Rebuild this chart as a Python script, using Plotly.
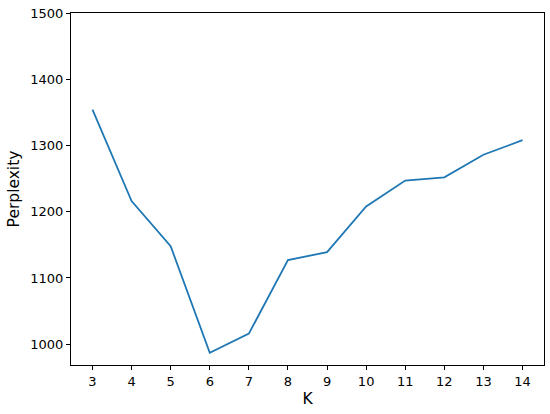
import plotly.graph_objects as go

k_values = [3, 4, 5, 6, 7, 8, 9, 10, 11, 12, 13, 14]
perplexity = [1354, 1216, 1148, 987, 1016, 1127, 1139, 1208, 1247, 1252, 1286, 1308]
y_ticks = [1000, 1100, 1200, 1300, 1400, 1500]

# matplotlib-like 5% padding below the data; the top is fixed at 1500
y_low = min(perplexity) - 0.05 * (max(perplexity) - min(perplexity))

fig = go.Figure()
fig.add_trace(
    go.Scatter(
        x=k_values,
        y=perplexity,
        mode="lines",
        line={"color": "#1f77b4", "width": 1.8},
        showlegend=False,
    )
)

axis_style = dict(
    showline=True,
    mirror=True,
    linecolor="black",
    linewidth=1,
    ticks="outside",
    ticklen=4,
    tickwidth=1,
    tickcolor="black",
    showgrid=False,
    zeroline=False,
    automargin=False,
    tickfont={"family": "DejaVu Sans", "size": 13, "color": "black"},
)
title_font = {"family": "DejaVu Sans", "size": 15.5, "color": "black"}

fig.update_xaxes(
    range=[2.45, 14.55],
    tickmode="array",
    tickvals=k_values,
    title={"text": "K", "font": title_font, "standoff": 5},
    **axis_style,
)
fig.update_yaxes(
    range=[y_low, 1500],
    tickmode="array",
    tickvals=y_ticks,
    title={"text": "Perplexity", "font": title_font, "standoff": 6},
    **axis_style,
)

fig.update_layout(
    width=550,
    height=414,
    plot_bgcolor="white",
    paper_bgcolor="white",
    margin={"l": 71, "r": 6, "t": 13, "b": 49},
)

# drop the default 8px body margin so the figure sits at the page corner
fig.write_html(
    "out.html",
    config={"displayModeBar": False},
    post_script="document.body.style.margin = '0';",
)
